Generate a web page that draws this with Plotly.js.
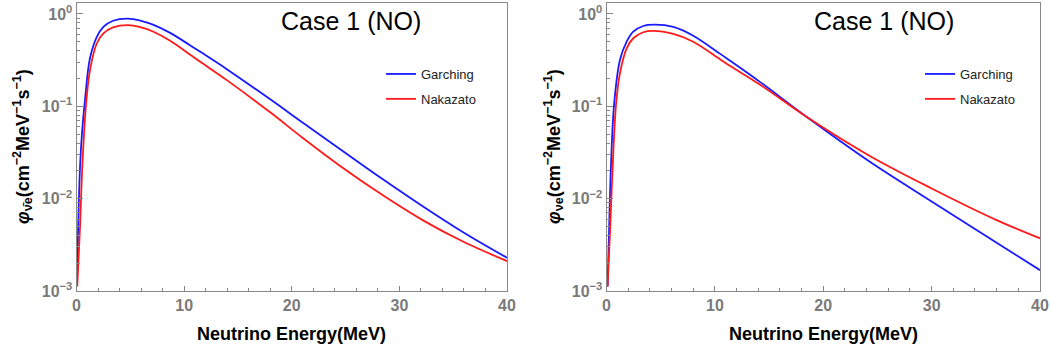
<!DOCTYPE html>
<html>
<head>
<meta charset="utf-8">
<script src="https://cdn.plot.ly/plotly-3.0.1.min.js"></script>
<style>
  html, body { margin: 0; padding: 0; background: #fff; }
  #chart { width: 1051px; height: 353px; }
</style>
</head>
<body>
<div id="chart"></div>
<script>
// Neutrino energy grids (MeV) and fluxes (cm^-2 MeV^-1 s^-1)
const energyAntiNuGarching = [0.05, 0.14, 0.33, 0.51, 0.79, 1.25, 1.88, 2.5, 3.4, 4.8, 6.0, 7.1, 8.7, 10.5, 11.5, 14, 18, 21, 24.5, 28.4, 32.2, 36, 40];
const fluxAntiNuGarching   = [0.00126, 0.00417, 0.0224, 0.0513, 0.1175, 0.331, 0.562, 0.724, 0.845, 0.891, 0.841, 0.767, 0.624, 0.462, 0.389, 0.251, 0.119, 0.0668, 0.0343, 0.0164, 0.00822, 0.00427, 0.00229];

const energyAntiNuNakazato = [0.07, 0.33, 0.54, 0.88, 1.25, 1.88, 2.5, 3.4, 4.8, 6.0, 7.1, 8.7, 10.5, 11.5, 14, 18, 21, 24.5, 28.4, 32.2, 36, 40];
const fluxAntiNuNakazato   = [0.00112, 0.00501, 0.0224, 0.102, 0.245, 0.479, 0.617, 0.716, 0.759, 0.716, 0.646, 0.513, 0.367, 0.303, 0.191, 0.0861, 0.0457, 0.0226, 0.011, 0.00582, 0.00339, 0.00211];

const energyNuGarching = [0.1, 0.23, 0.41, 0.7, 1.24, 1.86, 2.47, 3.39, 4.47, 6.16, 8.0, 10.46, 11.38, 14.15, 18.45, 24.3, 30, 36, 40];
const fluxNuGarching   = [0.00112, 0.00421, 0.0222, 0.105, 0.318, 0.501, 0.643, 0.741, 0.766, 0.724, 0.582, 0.372, 0.313, 0.184, 0.0771, 0.0251, 0.00933, 0.00333, 0.00168];

const energyNuNakazato = [0.1, 0.32, 0.57, 0.88, 1.24, 1.86, 2.47, 3.39, 4.31, 6.16, 8.0, 10.46, 11.38, 14.15, 18.45, 24.3, 30, 36, 40];
const fluxNuNakazato   = [0.00112, 0.00421, 0.0222, 0.105, 0.228, 0.425, 0.546, 0.634, 0.655, 0.607, 0.501, 0.324, 0.275, 0.172, 0.0771, 0.029, 0.0129, 0.00586, 0.00372];

const seriesNames = ['Garching', 'Nakazato'];
const seriesColors = ['#1a1aff', '#ff1a1a'];

const xTickVals = [0, 10, 20, 30, 40];
const yTickVals = [0.001, 0.01, 0.1, 1];
const yTickText = ['10<sup>\u22123</sup>', '10<sup>\u22122</sup>', '10<sup>\u22121</sup>', '10<sup>0</sup>'];

const panelTitle = 'Case 1 (NO)';
const xTitle = 'Neutrino Energy(MeV)';
const yTitleLeft = '<i>\u03c6</i><sub>\u03bd\u0304e</sub>(cm<sup>\u22122</sup>MeV<sup>\u22121</sup>s<sup>\u22121</sup>)';
const yTitleRight = '<i>\u03c6</i><sub>\u03bde</sub>(cm<sup>\u22122</sup>MeV<sup>\u22121</sup>s<sup>\u22121</sup>)';

// minor tick positions: 2..9 within each decade
const yMinor = [];
for (let d = -3; d <= 0; d++) {
  for (let k = 2; k <= 9; k++) yMinor.push(k * Math.pow(10, d));
}

const W = 1051, H = 353;
const px = v => v / W;
const py = v => 1 - v / H;

function line(x, y, i, xa, ya, legend) {
  return {
    x: x, y: y, type: 'scatter', mode: 'lines',
    name: seriesNames[i], xaxis: xa, yaxis: ya, legend: legend,
    legendgroup: legend + i,
    line: { color: seriesColors[i], width: 1.8, shape: 'spline', smoothing: 1 }
  };
}

const traces = [
  line(energyAntiNuGarching, fluxAntiNuGarching, 0, 'x', 'y', 'legend'),
  line(energyAntiNuNakazato, fluxAntiNuNakazato, 1, 'x', 'y', 'legend'),
  line(energyNuGarching, fluxNuGarching, 0, 'x2', 'y2', 'legend2'),
  line(energyNuNakazato, fluxNuNakazato, 1, 'x2', 'y2', 'legend2')
];

const tickFont = { family: 'Liberation Sans, Arial, sans-serif', size: 16, color: '#7a7a7a', weight: 'bold' };

function xAxis(domain, anchor) {
  return {
    domain: domain, anchor: anchor, range: [0, 40],
    tickvals: xTickVals, ticks: 'inside', ticklen: 5, tickwidth: 1, tickcolor: '#888',
    showline: true, mirror: true, linecolor: '#888', linewidth: 1,
    showgrid: false, zeroline: false, tickfont: tickFont,
    minor: { tickmode: 'linear', tick0: 0, dtick: 2, ticks: 'inside', ticklen: 3, tickcolor: '#888', tickwidth: 1, showgrid: false }
  };
}
function yAxis(anchor) {
  return {
    domain: [py(291), py(2.7)], anchor: anchor, type: 'log', range: [-3, 0.122],
    tickvals: yTickVals, ticktext: yTickText, ticks: 'inside', ticklen: 6, tickwidth: 1, tickcolor: '#888',
    showline: true, mirror: true, linecolor: '#888', linewidth: 1,
    showgrid: false, zeroline: false, tickfont: tickFont, ticklabelstandoff: 0,
    minor: { tickmode: 'array', tickvals: yMinor, ticks: 'inside', ticklen: 3, tickcolor: '#888', tickwidth: 1, showgrid: false }
  };
}

const legendBase = {
  bgcolor: 'rgba(0,0,0,0)', borderwidth: 0, tracegroupgap: 5,
  font: { family: 'Liberation Sans, Arial, sans-serif', size: 13, color: '#222' },
  xanchor: 'left', yanchor: 'top'
};

const titleFont = { family: 'Liberation Sans, Arial, sans-serif', size: 18, color: '#000', weight: 'bold' };
const caseFont = { family: 'Liberation Sans, Arial, sans-serif', size: 25, color: '#000' };

const annotations = [
  { text: panelTitle, xref: 'paper', yref: 'paper', x: px(351), y: py(21), xanchor: 'center', yanchor: 'middle', showarrow: false, font: caseFont },
  { text: panelTitle, xref: 'paper', yref: 'paper', x: px(884), y: py(21), xanchor: 'center', yanchor: 'middle', showarrow: false, font: caseFont },
  { text: xTitle, xref: 'paper', yref: 'paper', x: px(291.7), y: py(334), xanchor: 'center', yanchor: 'middle', showarrow: false, font: titleFont },
  { text: xTitle, xref: 'paper', yref: 'paper', x: px(823), y: py(334), xanchor: 'center', yanchor: 'middle', showarrow: false, font: titleFont },
  { text: yTitleLeft, xref: 'paper', yref: 'paper', x: px(22), y: py(147), xanchor: 'center', yanchor: 'middle', textangle: -90, showarrow: false, font: titleFont },
  { text: yTitleRight, xref: 'paper', yref: 'paper', x: px(553), y: py(147), xanchor: 'center', yanchor: 'middle', textangle: -90, showarrow: false, font: titleFont }
];

const layout = {
  width: W, height: H,
  margin: { l: 0, r: 0, t: 0, b: 0 },
  paper_bgcolor: '#fff', plot_bgcolor: '#fff',
  showlegend: true,
  xaxis: xAxis([px(76.5), px(507)], 'y'),
  yaxis: yAxis('x'),
  xaxis2: xAxis([px(606.5), px(1040)], 'y2'),
  yaxis2: yAxis('x2'),
  legend: Object.assign({}, legendBase, { x: px(381), y: py(59) }),
  legend2: Object.assign({}, legendBase, { x: px(920), y: py(59) }),
  annotations: annotations
};

Plotly.newPlot('chart', traces, layout, { staticPlot: true, displayModeBar: false });
</script>
</body>
</html>
